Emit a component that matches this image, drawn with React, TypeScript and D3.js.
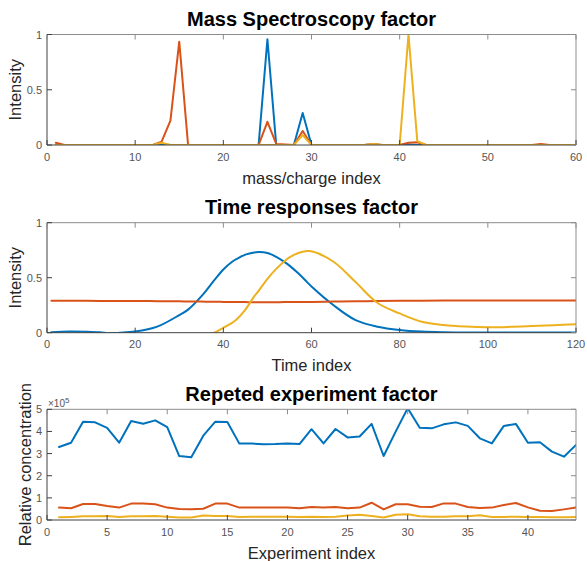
import React from 'react';
import * as d3 from 'd3';

// MATLAB default colour order
const colors = ['#0072BD', '#D95319', '#EDB120'];

// --- Mass spectroscopy factor (m/z index 1..60)
const massIdx = d3.range(1, 61);
const massBlue = [
  0, 0, 0, 0, 0, 0, 0, 0, 0, 0,
  0, 0, 0.005, 0, 0, 0, 0, 0, 0, 0,
  0, 0, 0, 0, 0.957, 0, 0, 0, 0.29, 0,
  0, 0, 0, 0, 0, 0, 0.005, 0, 0, 0,
  0.005, 0, 0, 0, 0, 0, 0, 0, 0, 0,
  0, 0, 0, 0, 0, 0, 0, 0, 0, 0,
];
const massOrange = [
  0.02, 0, 0, 0, 0, 0, 0, 0, 0, 0,
  0, 0, 0.03, 0.22, 0.935, 0, 0, 0, 0, 0,
  0, 0, 0, 0, 0.21, 0.01, 0.005, 0, 0.127, 0,
  0, 0, 0, 0, 0, 0, 0.01, 0, 0, 0,
  0.02, 0.025, 0, 0, 0, 0, 0, 0, 0, 0,
  0, 0, 0, 0, 0, 0.01, 0, 0, 0, 0,
];
const massYellow = [
  0, 0, 0, 0, 0, 0, 0, 0, 0, 0,
  0, 0, 0.02, 0, 0, 0, 0, 0, 0, 0,
  0, 0, 0, 0, 0, 0, 0, 0, 0.09, 0,
  0, 0, 0, 0, 0, 0, 0.01, 0, 0, 0,
  1.0, 0.035, 0, 0, 0, 0, 0, 0, 0, 0,
  0, 0, 0, 0, 0, 0, 0, 0, 0, 0,
];

// --- Time responses factor (sampled time index)
const timeIdx = [1, 5, 9, 12, 14, 16, 18, 20, 25, 30, 32, 35, 38, 40, 42, 43, 45, 47, 48, 50, 52, 54, 55, 57, 59, 60, 65, 70, 75, 80, 85, 90, 95, 100, 105, 110, 115, 120];
const timeBlue = [0.005, 0.01, 0.008, 0.003, -0.006, -0.002, 0.004, 0.01, 0.055, 0.16, 0.21, 0.33, 0.48, 0.575, 0.645, 0.67, 0.71, 0.73, 0.733, 0.725, 0.69, 0.64, 0.61, 0.54, 0.46, 0.42, 0.25, 0.115, 0.055, 0.025, 0.01, 0.004, 0.002, 0.001, 0.001, 0.001, 0.001, 0.001];
const timeOrange = [0.29, 0.29, 0.29, 0.289, 0.289, 0.289, 0.288, 0.288, 0.287, 0.285, 0.284, 0.283, 0.281, 0.28, 0.279, 0.279, 0.278, 0.277, 0.277, 0.277, 0.277, 0.278, 0.278, 0.279, 0.279, 0.28, 0.283, 0.286, 0.288, 0.29, 0.291, 0.292, 0.292, 0.293, 0.293, 0.293, 0.293, 0.293];
const timeYellow = [-0.05, -0.05, -0.05, -0.05, -0.05, -0.05, -0.05, -0.05, -0.06, -0.07, -0.06, -0.04, 0, 0.045, 0.09, 0.12, 0.21, 0.33, 0.38, 0.49, 0.58, 0.655, 0.685, 0.725, 0.742, 0.74, 0.645, 0.46, 0.27, 0.175, 0.1, 0.07, 0.056, 0.05, 0.053, 0.06, 0.068, 0.076];

// --- Repeted experiment factor (x 1e5)
const expIdx = d3.range(1, 45);
const expBlue = [
  3.30, 3.49, 4.44, 4.41, 4.16, 3.49, 4.47, 4.35, 4.50, 4.19,
  2.89, 2.83, 3.81, 4.44, 4.43, 3.45, 3.45, 3.42, 3.43, 3.46,
  3.43, 4.10, 3.46, 4.11, 3.73, 3.77, 4.34, 2.89, 3.99, 5.05,
  4.17, 4.14, 4.32, 4.41, 4.25, 3.69, 3.46, 4.25, 4.34, 3.49,
  3.51, 3.09, 2.86, 3.39,
];
const expOrange = [
  0.56, 0.53, 0.72, 0.72, 0.63, 0.56, 0.74, 0.75, 0.71, 0.56,
  0.50, 0.48, 0.51, 0.74, 0.74, 0.56, 0.57, 0.56, 0.56, 0.56,
  0.53, 0.59, 0.56, 0.59, 0.53, 0.56, 0.78, 0.48, 0.71, 0.71,
  0.60, 0.59, 0.75, 0.74, 0.59, 0.54, 0.56, 0.68, 0.77, 0.57,
  0.42, 0.41, 0.48, 0.56,
];
const expYellow = [
  0.12, 0.14, 0.17, 0.17, 0.18, 0.14, 0.17, 0.17, 0.18, 0.15,
  0.11, 0.11, 0.20, 0.18, 0.18, 0.14, 0.15, 0.15, 0.15, 0.15,
  0.14, 0.15, 0.14, 0.15, 0.20, 0.24, 0.18, 0.11, 0.24, 0.26,
  0.17, 0.15, 0.15, 0.17, 0.17, 0.21, 0.14, 0.14, 0.15, 0.14,
  0.14, 0.12, 0.12, 0.14,
];

const xLeft = 47;
const xRight = 576;
const font = '"Liberation Sans", Arial, Helvetica, sans-serif';

type PanelProps = {
  id: string;
  top: number;
  bottom: number;
  title: string;
  xLabel: string;
  yLabel: string;
  yLabelX: number;
  xDomain: [number, number];
  xTicks: number[];
  yDomain: [number, number];
  yTicks: number[];
  yFmt: (v: number) => string;
  xs: number[];
  series: number[][];
  smooth?: boolean;
  exponent?: boolean;
};

function Panel(p: PanelProps) {
  const x = d3.scaleLinear().domain(p.xDomain).range([xLeft, xRight]);
  const y = d3.scaleLinear().domain(p.yDomain).range([p.bottom, p.top]);
  const line = d3.line<number>()
    .x((d, i) => x(p.xs[i]))
    .y((d) => y(d));
  if (p.smooth) line.curve(d3.curveCatmullRom.alpha(0.5));
  const tick = 5;
  const midY = (p.top + p.bottom) / 2;

  return (
    <g>
      <clipPath id={p.id}>
        <rect x={xLeft} y={p.top} width={xRight - xLeft} height={p.bottom - p.top} />
      </clipPath>
      <g clipPath={`url(#${p.id})`}>
        {p.series.map((s, i) => (
          <path key={i} d={line(s) || ''} fill="none" stroke={colors[i]}
            strokeWidth={2} strokeLinejoin="round" strokeLinecap="round" />
        ))}
      </g>
      {/* box */}
      <line x1={xLeft} x2={xRight} y1={p.top} y2={p.top} stroke="#8c8c8c" />
      <line x1={xRight} x2={xRight} y1={p.top} y2={p.bottom} stroke="#8c8c8c" />
      <line x1={xLeft} x2={xRight} y1={p.bottom} y2={p.bottom} stroke="#404040" />
      <line x1={xLeft} x2={xLeft} y1={p.top} y2={p.bottom} stroke="#404040" />
      {p.xTicks.map((t) => (
        <g key={'x' + t}>
          <line x1={x(t)} x2={x(t)} y1={p.bottom} y2={p.bottom - tick} stroke="#404040" />
          <line x1={x(t)} x2={x(t)} y1={p.top} y2={p.top + tick} stroke="#8c8c8c" />
          <text x={x(t)} y={p.bottom + 15.5} textAnchor="middle" fontSize={11} fill="#555">{t}</text>
        </g>
      ))}
      {p.yTicks.map((t) => (
        <g key={'y' + t}>
          <line x1={xLeft} x2={xLeft + tick} y1={y(t)} y2={y(t)} stroke="#404040" />
          <line x1={xRight} x2={xRight - tick} y1={y(t)} y2={y(t)} stroke="#8c8c8c" />
          <text x={xLeft - 5} y={y(t) + 4} textAnchor="end" fontSize={11} fill="#555">{p.yFmt(t)}</text>
        </g>
      ))}
      {p.exponent && (
        <text x={xLeft + 1} y={p.top - 2} fontSize={10} fill="#555">
          ×10<tspan dy={-4} fontSize={8}>5</tspan>
        </text>
      )}
      <text x={(xLeft + xRight) / 2} y={p.top - 8.5} textAnchor="middle" fontSize={20}
        fontWeight="bold" fill="#000">{p.title}</text>
      <text x={(xLeft + xRight) / 2} y={p.bottom + 38.5} textAnchor="middle" fontSize={16.5}
        fill="#262626">{p.xLabel}</text>
      <text transform={`translate(${p.yLabelX},${midY}) rotate(-90)`} textAnchor="middle"
        fontSize={16.5} fill="#262626">{p.yLabel}</text>
    </g>
  );
}

export default function App() {
  const fmt01 = (v: number) => (v === 0.5 ? '0.5' : String(v));
  return (
    <svg width={587} height={561} style={{ position: 'absolute', left: 0, top: 0, background: '#fff' }}
      fontFamily={font}>
      <rect width={587} height={561} fill="#fff" />
      <Panel id="c1" top={34.5} bottom={145} title="Mass Spectroscopy factor"
        xLabel="mass/charge index" yLabel="Intensity" yLabelX={20.5}
        xDomain={[0, 60]} xTicks={[0, 10, 20, 30, 40, 50, 60]}
        yDomain={[0, 1]} yTicks={[0, 0.5, 1]} yFmt={fmt01}
        xs={massIdx} series={[massBlue, massOrange, massYellow]} />
      <Panel id="c2" top={222.7} bottom={332.7} title="Time responses factor"
        xLabel="Time index" yLabel="Intensity" yLabelX={20.5}
        xDomain={[0, 120]} xTicks={[0, 20, 40, 60, 80, 100, 120]}
        yDomain={[0, 1]} yTicks={[0, 0.5, 1]} yFmt={fmt01}
        xs={timeIdx} series={[timeBlue, timeOrange, timeYellow]} smooth />
      <Panel id="c3" top={409.3} bottom={520} title="Repeted experiment factor"
        xLabel="Experiment index" yLabel="Relative concentration" yLabelX={31}
        xDomain={[0, 44]} xTicks={[0, 5, 10, 15, 20, 25, 30, 35, 40]}
        yDomain={[0, 5]} yTicks={[0, 1, 2, 3, 4, 5]} yFmt={(v) => String(v)}
        xs={expIdx} series={[expBlue, expOrange, expYellow]} exponent />
    </svg>
  );
}
